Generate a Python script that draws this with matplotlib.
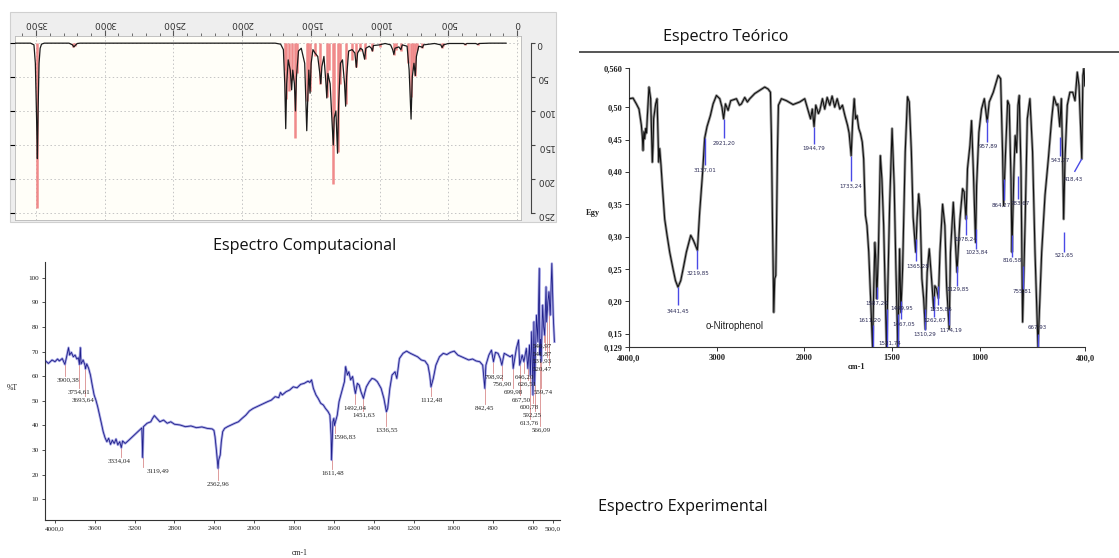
import numpy as np
import matplotlib
matplotlib.use("Agg")
import matplotlib.pyplot as plt
from matplotlib.patches import Rectangle
from matplotlib.lines import Line2D
from matplotlib.ticker import MultipleLocator

# ---------------------------------------------------------------- data
# Computed IR spectrum (shown rotated): stick intensities and broadened envelope
calc_stick_wn = [3492, 3232, 3218, 1690, 1682, 1660, 1640, 1612, 1600, 1528, 1520,
                 1506, 1470, 1430, 1384, 1370, 1340, 1330, 1306, 1290, 1248, 1200,
                 1170, 1140, 1109, 1052, 1000, 898, 880, 845, 790, 774, 760, 742,
                 730, 690, 548, 540, 378, 287]
calc_stick_int = [243, 6, 4, 40, 83, 70, 55, 140, 45, 85, 40,
                  70, 20, 60, 80, 40, 207, 100, 160, 60, 90, 25,
                  35, 12, 24, 12, 6, 18, 10, 12, 30, 80, 40, 48,
                  10, 8, 7, 5, 3, 3]
calc_curve_wn = [3650, 3540, 3515, 3505, 3495, 3490, 3485, 3478, 3470, 3460, 3440,
                 3260, 3235, 3225, 3215, 3200, 3180, 1760, 1720, 1700, 1690, 1683,
                 1676, 1665, 1650, 1640, 1632, 1620, 1612, 1605, 1590, 1570, 1545,
                 1530, 1524, 1515, 1506, 1498, 1485, 1470, 1450, 1435, 1428, 1420,
                 1405, 1392, 1384, 1376, 1360, 1345, 1337, 1330, 1318, 1306, 1298,
                 1285, 1270, 1255, 1247, 1240, 1225, 1200, 1180, 1169, 1160, 1140,
                 1125, 1109, 1100, 1075, 1060, 1052, 1045, 1000, 960, 920, 905, 896,
                 888, 860, 845, 835, 800, 785, 771, 762, 750, 740, 732, 715, 695,
                 688, 680, 600, 555, 545, 535, 500, 390, 376, 365, 300, 285, 275,
                 200, 80]
calc_curve_int = [0.5, 0.5, 3, 30, 120, 170, 100, 30, 8, 2, 0.5,
                  0.5, 3, 6, 4, 1, 0.5, 0.5, 2, 10, 60, 126,
                  60, 25, 40, 69, 40, 60, 100, 50, 12, 8, 30,
                  129, 90, 40, 74, 30, 10, 15, 20, 45, 60, 35,
                  20, 55, 81, 45, 60, 120, 150, 110, 100, 162, 90,
                  30, 25, 60, 93, 50, 12, 10, 15, 36, 15, 8,
                  10, 24, 8, 5, 8, 12, 4, 3, 1, 3, 10, 17,
                  8, 6, 10, 3, 5, 40, 112, 50, 30, 48, 20, 5, 6,
                  7, 3, 1, 3, 7, 3, 1, 1, 2.5, 1, 1, 2.5, 1,
                  0.5, 0.5]
calc_xticks = [3500, 3000, 2500, 2000, 1500, 1000, 500, 0]
calc_yticks = [0, 50, 100, 150, 200, 250]

# Measured transmittance spectrum (%T)
exp_wn = [4095, 4066, 4029, 4000, 3974, 3956, 3927, 3900.38, 3883, 3864, 3853, 3835,
          3816, 3798, 3780, 3765, 3754.61, 3745, 3738, 3717, 3699, 3693.64, 3681,
          3662, 3644, 3626, 3607, 3589, 3571, 3552, 3534, 3516, 3497, 3479, 3461,
          3442, 3424, 3405, 3387, 3369, 3350, 3334.04, 3321, 3295, 3259, 3222,
          3185, 3149, 3128, 3119.49, 3112, 3075, 3038, 3020, 3002, 2972, 2947,
          2910, 2873, 2837, 2800, 2745, 2690, 2635, 2580, 2525, 2470, 2422, 2404,
          2393, 2378, 2362.96, 2356, 2341, 2330, 2316, 2297, 2268, 2231, 2194,
          2158, 2121, 2084, 2048, 2011, 1987, 1969, 1950, 1932, 1914, 1895, 1877,
          1868, 1859, 1840, 1822, 1804, 1785, 1767, 1749, 1730, 1721, 1712, 1703,
          1690, 1679, 1666, 1653, 1642, 1629, 1620, 1614, 1611.48, 1605, 1600,
          1596.83, 1583, 1574, 1565, 1556, 1547, 1541, 1532, 1525, 1516, 1506,
          1497, 1492.04, 1482, 1473, 1464, 1451.63, 1446, 1437, 1422, 1409, 1396,
          1382, 1363, 1349, 1336.55, 1330, 1319, 1308, 1293, 1284, 1271, 1253,
          1235, 1216, 1198, 1180, 1161, 1143, 1128, 1119, 1112.48, 1101, 1088,
          1070, 1051, 1033, 1015, 996, 978, 959, 941, 923, 904, 886, 868, 853,
          842.45, 837, 822, 809, 798.92, 789, 776, 765, 756.90, 745, 730, 715,
          704, 699.98, 684, 673, 667.50, 655, 646.20, 634, 626.51, 618, 613.76,
          607, 600.78, 596, 592.25, 583, 576, 569, 566.09, 563, 559.74, 552,
          546.97, 541.87, 535, 531.93, 526, 520.47, 514, 506, 499, 493]
exp_T = [66.2, 65.2, 66.6, 65.9, 67.0, 66.2, 67.2, 64.8, 67.9, 71.6, 68.6, 69.7,
         67.9, 68.6, 67.0, 67.5, 64.8, 71.6, 65.0, 66.6, 64.5, 63.0, 65.0,
         63.2, 60.5, 56.4, 52.4, 50.3, 47.6, 44.2, 40.9, 37.5, 35.0, 33.4, 34.8,
         32.3, 34.0, 32.7, 34.5, 32.1, 33.4, 31.0, 33.7, 32.7, 34.0, 35.4,
         36.8, 38.2, 39.0, 27.0, 39.5, 40.9, 41.5, 42.9, 44.0, 42.6, 41.5,
         42.2, 40.9, 41.5, 40.5, 40.2, 39.5, 39.8, 39.1, 39.4, 38.8, 38.6, 38.0,
         35.4, 29.4, 22.6, 26.0, 28.0, 33.4, 37.5, 38.8, 39.5, 40.2, 40.9,
         41.5, 42.9, 44.2, 45.9, 46.9, 47.6, 48.3, 49.0, 49.7, 50.3, 51.7, 51.3,
         53.4, 52.4, 53.7, 54.4, 55.7, 55.3, 56.7, 57.1, 58.0, 57.5, 58.5, 55.1,
         52.4, 51.0, 49.0, 48.3, 46.9, 45.6, 44.2, 36.1, 26.0, 41.5, 42.9,
         40.0, 44.2, 49.7, 52.4, 55.1, 57.8, 63.9, 60.5, 61.8, 58.5, 59.9,
         55.1, 53.0, 57.1, 56.4, 53.7, 51.0, 53.0, 55.7, 57.8, 59.1, 58.8,
         57.8, 55.1, 51.0, 45.6, 46.9, 55.1, 60.5, 61.8, 59.1, 67.2, 69.3,
         70.2, 69.3, 68.6, 67.9, 66.6, 66.2, 64.5, 60.5, 55.7, 59.1, 64.5,
         67.9, 69.3, 68.8, 69.7, 70.2, 68.6, 67.9, 67.2, 66.6, 67.0, 66.2, 65.9, 64.5,
         55.1, 64.5, 68.6, 70.6, 65.9, 69.7, 69.3, 67.2, 64.5, 69.3, 68.6, 67.9,
         68.6, 63.2, 71.3, 74.7, 64.5, 68.6, 65.9, 71.3, 63.2, 72.7, 60.5,
         78.1, 52.4, 82.1, 56.6, 84.8, 74.0, 103.8, 68.6, 75.0, 66.0, 88.9,
         80.0, 76.7, 96.3, 82.1, 90.0, 94.3, 84.8, 105.8, 84.8, 74.0]
exp_peak_wn = [3900.38, 3754.61, 3693.64, 3334.04, 3119.49, 2362.96, 1611.48, 1596.83,
               1492.04, 1451.63, 1336.55, 1112.48, 842.45, 798.92, 756.90, 699.98,
               667.50, 646.20, 626.51, 613.76, 600.78, 592.25, 566.09, 559.74,
               520.47, 531.93, 541.87, 546.97]
exp_xticks = [4000, 3600, 3200, 2800, 2400, 2000, 1800, 1600, 1400, 1200, 1000, 800, 600, 500]
exp_xticklabels = ["4000,0", "3600", "3200", "2800", "2400", "2000", "1800", "1600",
                   "1400", "1200", "1000", "800", "600", "500,0"]
exp_yticks = [10, 20, 30, 40, 50, 60, 70, 80, 90, 100]

# Theoretical spectrum of o-nitrophenol (Egy)
theo_wn = [4000, 3954, 3916, 3886, 3859, 3848, 3840, 3830, 3821, 3810, 3800, 3791, 3772,
           3753, 3734, 3726, 3719, 3696, 3680, 3661, 3650, 3635, 3620, 3593, 3566, 3536,
           3498, 3470, 3441.45, 3410, 3380, 3346, 3296, 3265, 3219.85, 3194, 3160,
           3137.01, 3110, 3072, 3041, 3003, 2965, 2940, 2921.20, 2900, 2870, 2840,
           2775, 2740, 2718, 2680, 2650, 2623, 2566, 2509, 2452, 2414, 2387, 2376,
           2364, 2349, 2338, 2326, 2319, 2307, 2296, 2262, 2205, 2129, 2053, 1998,
           1979, 1965, 1955, 1944.79, 1935, 1920, 1912, 1897, 1884, 1870, 1855, 1842,
           1827, 1813, 1798, 1783, 1769, 1754, 1745, 1733.24, 1725, 1716, 1708, 1700,
           1690, 1680, 1670, 1662, 1652, 1643, 1633, 1624, 1611.20, 1605, 1598, 1593,
           1587.20, 1578, 1567, 1558, 1548, 1531.74, 1524, 1514, 1500, 1488, 1478,
           1467.05, 1462, 1457, 1449.95, 1440, 1425, 1412, 1402, 1390, 1380, 1365.28,
           1357, 1348, 1340, 1330, 1320, 1310.29, 1300, 1288, 1275, 1262.67, 1256,
           1246, 1235.86, 1227, 1212, 1199, 1189, 1174.19, 1167, 1151, 1138, 1129.85,
           1113, 1098, 1089, 1078.24, 1070, 1056, 1047, 1037, 1023.84, 1018, 1005,
           990, 974, 957.89, 946, 923, 905, 895, 881, 870, 864.27, 853, 841, 832,
           822, 816.58, 805, 798, 790, 782, 775, 765, 755.81, 741, 729, 714, 699,
           685, 667.93, 647, 628, 609, 590, 577, 562, 555, 543.77, 535, 528, 521.65,
           514, 501, 486, 470, 457, 450, 444, 434, 418.43, 412, 406, 401]
theo_egy = [0.513, 0.514, 0.505, 0.497, 0.472, 0.455, 0.433, 0.462, 0.451, 0.467, 0.460, 0.485, 0.531,
            0.513, 0.415, 0.440, 0.482, 0.505, 0.513, 0.415, 0.436, 0.410, 0.379, 0.327, 0.302, 0.276,
            0.250, 0.232, 0.222, 0.232, 0.252, 0.276, 0.302, 0.294, 0.279, 0.338, 0.400,
            0.452, 0.470, 0.487, 0.505, 0.518, 0.513, 0.500, 0.482, 0.505, 0.495, 0.510,
            0.513, 0.503, 0.505, 0.515, 0.508, 0.513, 0.521, 0.526, 0.531, 0.528, 0.523, 0.456,
            0.327, 0.183, 0.235, 0.240, 0.302, 0.431, 0.503, 0.513, 0.510, 0.504, 0.508, 0.513,
            0.495, 0.482, 0.497, 0.470, 0.503, 0.490, 0.495, 0.513, 0.497, 0.515, 0.503, 0.517,
            0.500, 0.513, 0.497, 0.503, 0.487, 0.472, 0.460, 0.425, 0.477, 0.513, 0.482, 0.487,
            0.467, 0.459, 0.446, 0.420, 0.333, 0.317, 0.276, 0.214, 0.129, 0.214, 0.291, 0.266,
            0.204, 0.276, 0.425, 0.389, 0.317, 0.129, 0.224, 0.348, 0.467, 0.379, 0.250,
            0.129, 0.200, 0.281, 0.183, 0.250, 0.431, 0.516, 0.508, 0.431, 0.330, 0.276,
            0.330, 0.366, 0.340, 0.235, 0.204, 0.157, 0.245, 0.281, 0.235, 0.188, 0.224,
            0.219, 0.205, 0.276, 0.350, 0.317, 0.224, 0.157, 0.276, 0.353, 0.286, 0.245,
            0.327, 0.374, 0.369, 0.327, 0.405, 0.441, 0.479, 0.405, 0.291, 0.379, 0.461,
            0.497, 0.513, 0.477, 0.508, 0.523, 0.540, 0.549, 0.544, 0.430, 0.348, 0.430, 0.510, 0.503,
            0.389, 0.276, 0.405, 0.456, 0.430, 0.503, 0.518, 0.405, 0.168, 0.327, 0.482, 0.513, 0.431,
            0.276, 0.129, 0.276, 0.364, 0.420, 0.482, 0.516, 0.503, 0.505, 0.470, 0.513, 0.430, 0.327,
            0.420, 0.503, 0.523, 0.523, 0.510, 0.533, 0.554, 0.533, 0.420, 0.549, 0.560, 0.533]
theo_peak_wn = [3441.45, 3219.85, 3137.01, 2921.20, 1944.79, 1733.24, 1611.20, 1587.20,
                1531.74, 1467.05, 1449.95, 1365.28, 1310.29, 1262.67, 1235.86, 1174.19,
                1129.85, 1078.24, 1023.84, 957.89, 864.27, 816.58, 783.67, 755.81,
                667.93, 543.77, 521.65, 418.43]
theo_xticks = [4000, 3000, 2000, 1500, 1000, 400]
theo_xticklabels = ["4000,0", "3000", "2000", "1500", "1000", "400,0"]
theo_yticks = [0.129, 0.15, 0.20, 0.25, 0.30, 0.35, 0.40, 0.45, 0.50, 0.560]
theo_yticklabels = ["0,129", "0,15", "0,20", "0,25", "0,30", "0,35", "0,40", "0,45", "0,50", "0,560"]

# ------------------------------------------------------- label layout
# experimental peak labels: text anchor (wavenumber, %T)
exp_label_tx = [3868, 3754, 3718, 3352, 2968, 2367, 1606, 1546, 1492, 1448, 1337, 1111,
                844, 794, 754, 697, 657, 644, 629, 620, 620, 607, 559, 547, 553, 553, 553, 553]
exp_label_ty = [58.5, 53.7, 50.3, 25.7, 21.6, 16.1, 20.6, 35.4, 47.2, 44.2, 38.2, 50.3,
                47.2, 59.7, 56.8, 53.7, 50.6, 59.7, 57.0, 41.1, 47.4, 44.2, 38.2, 53.7,
                62.9, 66.2, 68.9, 72.3]
# theoretical peak labels: marker line (top, bottom) and text anchor
theo_line_top = [0.222, 0.279, 0.452, 0.482, 0.470, 0.425, 0.163, 0.222, 0.188, 0.180,
                 0.200, 0.297, 0.188, 0.209, 0.224, 0.188, 0.255, 0.333, 0.312, 0.482,
                 0.389, 0.302, 0.394, 0.255, 0.150, 0.454, 0.307, 0.420]
theo_line_bot = [0.195, 0.250, 0.410, 0.452, 0.443, 0.386, 0.129, 0.203, 0.129, 0.129,
                 0.172, 0.262, 0.155, 0.176, 0.194, 0.163, 0.224, 0.302, 0.281, 0.446,
                 0.356, 0.268, 0.358, 0.219, 0.129, 0.424, 0.276, 0.400]
theo_text_x = [3441, 3219, 3137, 2921, 1944, 1733, 1628, 1590, 1515, 1432, 1447, 1355,
               1312, 1255, 1225, 1165, 1125, 1082, 1015, 950, 876, 816, 772, 760, 672,
               543, 521, 468]
theo_text_y = [0.185, 0.243, 0.402, 0.444, 0.436, 0.377, 0.171, 0.197, 0.135, 0.164,
               0.189, 0.254, 0.149, 0.170, 0.187, 0.155, 0.219, 0.296, 0.276, 0.440,
               0.348, 0.263, 0.352, 0.216, 0.160, 0.418, 0.271, 0.389]

W, H = 1119, 558
fig = plt.figure(figsize=(W / 100, H / 100), dpi=100)
fig.patch.set_facecolor("white")


def px_axes(x0, y0, x1, y1):
    return fig.add_axes([x0 / W, 1 - y1 / H, (x1 - x0) / W, (y1 - y0) / H])


def fwd(w):
    w = np.asarray(w, dtype=float)
    return np.where(w > 2000, 1000 + w / 2, w)


def inv(p):
    p = np.asarray(p, dtype=float)
    return np.where(p > 2000, 2 * (p - 1000), p)


def fmt(v):
    return f"{v:.2f}".replace(".", ",")


# ------------------------------------------------ computed (rotated) panel
fig.patches.append(Rectangle((10 / W, 1 - 222 / H), 546 / W, 210 / H,
                             transform=fig.transFigure, facecolor="#eeeeee",
                             edgecolor="#d0d0d0", lw=0.8, zorder=-5))
ax1 = px_axes(15, 36, 521, 220)
ax1.set_facecolor("#fffef8")
ax1.vlines(calc_stick_wn, 0, calc_stick_int, color="#f08a8a", lw=1.8, zorder=2)
ax1.plot(calc_curve_wn, calc_curve_int, color="#1a1a1a", lw=0.9, zorder=3)
ax1.set_xlim(3653, -29)
ax1.set_ylim(260, -10)
ax1.set_xticks(calc_xticks)
ax1.xaxis.set_minor_locator(MultipleLocator(100))
ax1.set_yticks(calc_yticks)
ax1.grid(True, which="major", ls=(0, (1.5, 2.5)), color="#c4c4c4", lw=0.7)
ax1.xaxis.tick_top()
ax1.tick_params(axis="x", which="both", direction="out", color="#555555",
                labelsize=6.5, labelcolor="#333333", pad=1.5, labelrotation=180)
ax1.tick_params(axis="x", which="major", length=4)
ax1.tick_params(axis="x", which="minor", length=2)
ax1.tick_params(axis="y", left=False, right=False, labelleft=False)
for s in ax1.spines.values():
    s.set_color("#b8b8b8")
    s.set_linewidth(0.6)
ax1r = ax1.twinx()
ax1r.set_ylim(260, -10)
ax1r.set_yticks(calc_yticks)
for k in ("top", "bottom", "left"):
    ax1r.spines[k].set_visible(False)
ax1r.spines["right"].set_position(("outward", 7))
ax1r.spines["right"].set_bounds(0, 250)
ax1r.spines["right"].set_color("#444444")
ax1r.tick_params(axis="y", direction="out", length=3, color="#444444",
                 labelsize=6.5, labelcolor="#333333", pad=1.5, labelrotation=180)

# ------------------------------------------------------- experimental panel
ax2 = px_axes(45, 262, 560, 520)
ax2.set_xscale("function", functions=(fwd, inv))
ax2.plot(exp_wn, exp_T, color="#8c8cdc", lw=1.8, alpha=0.75, zorder=2)
ax2.plot(exp_wn, exp_T, color="#1e1e8a", lw=0.6, zorder=3)
ax2.set_xlim(4100, 465)
ax2.set_ylim(1.6, 106.4)
curve_T = np.interp(exp_peak_wn, exp_wn[::-1], exp_T[::-1])
for wn, top, tx, ty in zip(exp_peak_wn, curve_T, exp_label_tx, exp_label_ty):
    ax2.plot([wn, wn], [top, ty + 1.6], color="#d98c8c", lw=0.6, zorder=1)
    ax2.text(tx, ty, fmt(wn), fontsize=5.0, family="Liberation Serif",
             ha="center", va="center", color="#222222", zorder=4)
ax2.set_xticks(exp_xticks, exp_xticklabels)
ax2.set_yticks(exp_yticks)
ax2.minorticks_off()
for k in ("top", "right"):
    ax2.spines[k].set_visible(False)
for k in ("left", "bottom"):
    ax2.spines[k].set_color("#333333")
    ax2.spines[k].set_linewidth(0.8)
ax2.tick_params(direction="out", length=2.5, width=0.6, labelsize=5.2, pad=2,
                color="#333333", labelcolor="#222222")
for lbl in ax2.get_xticklabels() + ax2.get_yticklabels():
    lbl.set_family("Liberation Serif")
fig.text(12 / W, 1 - 388 / H, "%T", fontsize=5.5, family="Liberation Serif",
         ha="center", va="center", color="#222222")
fig.text(300 / W, 1 - 553 / H, "cm-1", fontsize=5.5, family="Liberation Serif",
         ha="center", va="center", color="#222222")

# -------------------------------------------------------- theoretical panel
ax3 = px_axes(629, 68.3, 1085, 347.3)
ax3.set_xscale("function", functions=(fwd, inv))
ax3.plot(theo_wn, theo_egy, color="#9a9a9a", lw=2.0, zorder=2)
ax3.plot(theo_wn, theo_egy, color="#111111", lw=0.8, zorder=3)
ax3.set_xlim(4000, 400)
ax3.set_ylim(0.129, 0.560)
for i, wn in enumerate(theo_peak_wn):
    x_end = wn if i < len(theo_peak_wn) - 1 else theo_text_x[i] - 8
    ax3.plot([wn, x_end], [theo_line_top[i], theo_line_bot[i]], color="#4a4ae6",
             lw=1.0, zorder=4, solid_capstyle="butt")
    ax3.text(theo_text_x[i], theo_text_y[i], fmt(wn), fontsize=4.0,
             family="DejaVu Sans", ha="center", va="center", color="#2a2a55", zorder=5)
ax3.text(2790, 0.162, "o-Nitrophenol", fontsize=7, family="Liberation Sans",
         ha="center", va="center", color="#222222", zorder=5)
ax3.set_xticks(theo_xticks, theo_xticklabels)
ax3.set_yticks(theo_yticks, theo_yticklabels)
ax3.minorticks_off()
for k in ("top", "right"):
    ax3.spines[k].set_visible(False)
for k in ("left", "bottom"):
    ax3.spines[k].set_color("#333333")
    ax3.spines[k].set_linewidth(0.8)
ax3.tick_params(direction="out", length=3, width=0.7, labelsize=6.0, pad=2,
                color="#333333", labelcolor="#222222")
for lbl in ax3.get_xticklabels() + ax3.get_yticklabels():
    lbl.set_family("Liberation Serif")
    lbl.set_fontweight("bold")
fig.text(593 / W, 1 - 213 / H, "Egy", fontsize=6, family="Liberation Serif",
         fontweight="bold", ha="center", va="center", color="#222222")
fig.text(857 / W, 1 - 367 / H, "cm-1", fontsize=6, family="Liberation Serif",
         fontweight="bold", ha="center", va="center", color="#222222")

# ------------------------------------------------------------ headings
fig.add_artist(Line2D([580 / W, 1.0], [1 - 51.5 / H, 1 - 51.5 / H],
                      transform=fig.transFigure, color="#555555", lw=1.4))
head = dict(family="Open Sans", fontsize=11.6, color="#111111", ha="center", va="center")
fig.text(726 / W, 1 - 37 / H, "Espectro Teórico", **head)
fig.text(305 / W, 1 - 246 / H, "Espectro Computacional", **head)
fig.text(683 / W, 1 - 507 / H, "Espectro Experimental", **head)

fig.savefig("out.png", dpi=100)
